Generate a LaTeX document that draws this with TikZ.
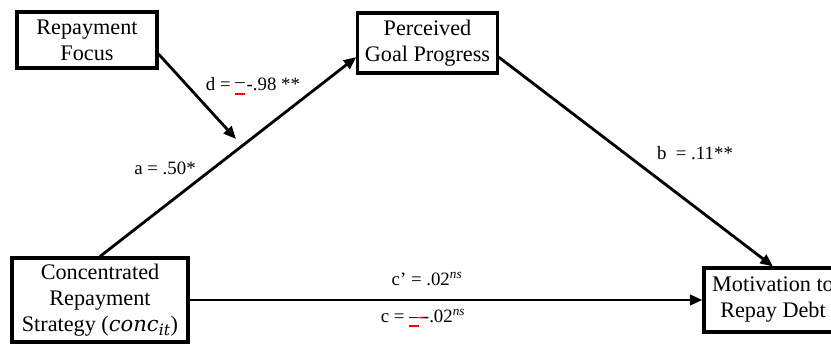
\documentclass[tikz,border=0pt]{standalone}
\usepackage{fontspec}
\setmainfont{Liberation Serif}
\newfontfamily\matfont{DejaVu Serif}
\usepackage{xcolor}
\usetikzlibrary{arrows.meta}

\newcommand{\sublinhado}[1]{\setbox0\hbox{#1}\rlap{\textcolor{red}{\rule[-3pt]{\wd0}{1.3pt}}}\box0}

\begin{document}
\begin{tikzpicture}[x=0.025cm, y=-0.025cm,
  caixa/.style={draw, line width=2.2pt, inner sep=0pt, align=center, font=\fontsize{15.8}{18.5}\selectfont},
  seta/.style={->, line width=2pt},
  rotulo/.style={font=\fontsize{13.4}{16}\selectfont},
  >={Triangle[length=9pt,width=7.5pt]}]
% Área visível
\clip (0,0) rectangle (831,343);

% Caixas
\node[caixa, minimum width=3.5cm, minimum height=1.4cm] (foco) at (87,40) {Repayment\\Focus};
\node[caixa, minimum width=3.48cm, minimum height=1.5cm] (progresso) at (427.5,43) {Perceived\\Goal Progress};
\node[caixa, minimum width=4.4cm, minimum height=2.1cm] (estrategia) at (100,300) {Concentrated\\Repayment\\Strategy ({\matfont\itshape\fontsize{15}{18}\selectfont conc}\textsubscript{\matfont\itshape it})};
\node[caixa, minimum width=3.45cm, minimum height=1.6cm] (motivacao) at (773,300) {Motivation to\\Repay Debt};

% Setas
\coordinate (encontro) at (236,139);
\draw[seta] (estrategia.north) -- ([yshift=-10pt]progresso.west);
\draw[seta] ([yshift=-10pt]foco.east) -- (encontro);
\draw[seta] ([yshift=-10pt]progresso.east) -- (motivacao.north);
\draw[seta] (estrategia.east) -- (motivacao.west);

% Coeficientes
\node[rotulo] (rotd) at (253,86) {d = \sublinhado{\raisebox{2pt}{–}}\kern0.1em-.98 **};
\node[rotulo] (rota) at (165,168) {a = .50*};
\node[rotulo] (rotb) at (695,153) {b \ = .11**};
\node[rotulo] (rotc1) at (427,279) {c’ = .02\textsuperscript{\textit{ns}}};
\node[rotulo] (rotc) at (423,318) {c = \sublinhado{–}\textcolor{red}{-}\kern-0.1em-.02\textsuperscript{\textit{ns}}};
\end{tikzpicture}
\end{document}
